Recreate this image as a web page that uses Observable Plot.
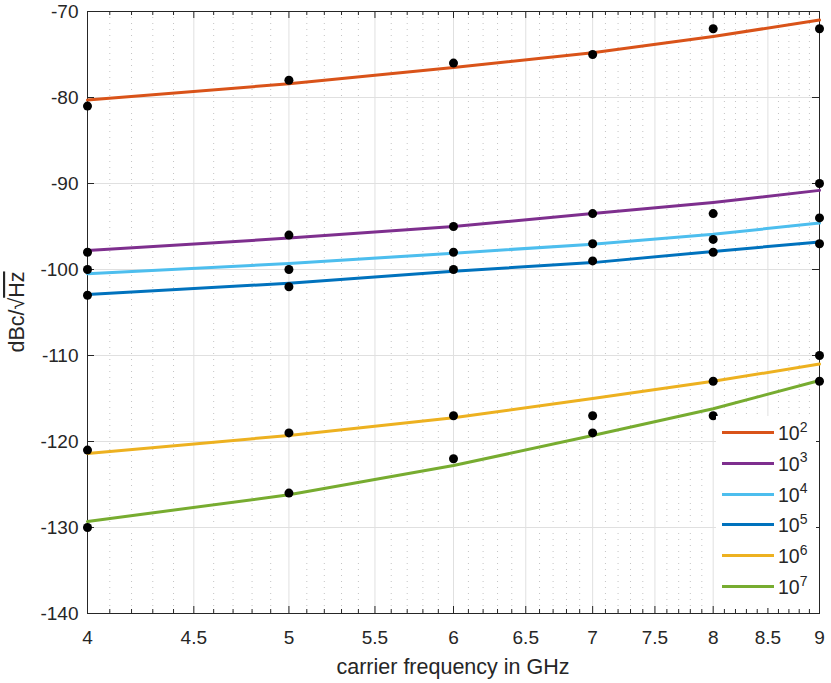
<!DOCTYPE html>
<html>
<head>
<meta charset="utf-8">
<script src="https://cdn.jsdelivr.net/npm/d3@7"></script>
<script src="https://cdn.jsdelivr.net/npm/@observablehq/plot@0.6"></script>
<style>
  html, body { margin: 0; padding: 0; background: #fff; }
  #wrap { position: relative; width: 831px; height: 683px; font-family: "Liberation Sans", Arial, sans-serif; color: #262626; }
  #legend { position: absolute; left: 716px; top: 416px; width: 100px; height: 192px; background: #fff; }
  .entry { position: absolute; left: 0; height: 22px; width: 100px; }
  .entry .sw { position: absolute; left: 6px; top: 9px; width: 52px; height: 3px; }
  .entry .lb { position: absolute; left: 62px; top: 0; font-size: 19.5px; line-height: 22px; white-space: nowrap; }
  .entry .lb sup { font-size: 14px; position: relative; top: -1px; vertical-align: super; line-height: 0; }
</style>
</head>
<body>
<div id="wrap"></div>
<script>
// ---- data ----
const freq = [4, 5, 6, 7, 8, 9];
const seriesNames = ["10^2", "10^3", "10^4", "10^5", "10^6", "10^7"];
const seriesExponents = ["2", "3", "4", "5", "6", "7"];
const seriesColors = ["#D95319", "#7E2F8E", "#4DBEEE", "#0072BD", "#EDB120", "#77AC30"];

// measured points (black dots)
const meas102 = [-81, -78, -76, -75, -72, -72];
const meas103 = [-98, -96, -95, -93.5, -93.5, -90];
const meas104 = [-100, -100, -98, -97, -96.5, -94];
const meas105 = [-103, -102, -100, -99, -98, -97];
const meas106 = [-121, -119, -117, -117, -113, -110];
const meas107 = [-130, -126, -122, -119, -117, -113];

// fitted curves (coloured lines)
const fit102 = [-80.3, -78.4, -76.5, -74.8, -72.9, -71.0];
const fit103 = [-97.8, -96.35, -95.0, -93.5, -92.2, -90.8];
const fit104 = [-100.5, -99.3, -98.1, -97.05, -95.9, -94.6];
const fit105 = [-102.9, -101.6, -100.2, -99.2, -97.9, -96.8];
const fit106 = [-121.4, -119.3, -117.25, -115.0, -113.0, -111.0];
const fit107 = [-129.3, -126.2, -122.8, -119.3, -116.2, -112.9];

// ticks
const xTicks = [4, 4.5, 5, 5.5, 6, 6.5, 7, 7.5, 8, 8.5, 9];
const yTicks = [-140, -130, -120, -110, -100, -90, -80, -70];
const xMinor = d3.range(41, 90).filter(v => v % 5 !== 0).map(v => v / 10);

// ---- build tables ----
const measAll = [meas102, meas103, meas104, meas105, meas106, meas107];
const fitAll = [fit102, fit103, fit104, fit105, fit106, fit107];
const fitRows = [];
const measRows = [];
seriesNames.forEach((s, i) => {
  freq.forEach((f, j) => {
    fitRows.push({series: s, freq: f, value: fitAll[i][j]});
    measRows.push({series: s, freq: f, value: measAll[i][j]});
  });
});

const W = 831, H = 683, mL = 87, mR = 12, mT = 11, mB = 70;
const innerW = W - mL - mR, innerH = H - mT - mB;
const axisColor = "#262626";

const chart = Plot.plot({
  width: W, height: H,
  marginLeft: mL, marginRight: mR, marginTop: mT, marginBottom: mB,
  style: {fontFamily: "'Liberation Sans', Arial, sans-serif", fontSize: "19px", color: axisColor, background: "#fff", overflow: "visible"},
  x: {type: "log", domain: [4, 9], ticks: xTicks, tickFormat: d => String(d), tickSize: 0, tickPadding: 17, label: null},
  y: {domain: [-140, -70], ticks: yTicks, tickFormat: d => String(d), tickSize: 0, tickPadding: 9, label: null},
  color: {domain: seriesNames, range: seriesColors},
  marks: [
    Plot.ruleX(xMinor, {stroke: "#c4c4c4", strokeDasharray: "1,5"}),
    Plot.ruleX(xTicks, {stroke: "#e0e0e0"}),
    Plot.ruleY(yTicks, {stroke: "#e0e0e0"}),
    // inward ticks
    Plot.ruleX(xTicks, {stroke: axisColor, insetTop: innerH - 7}),
    Plot.ruleX(xTicks, {stroke: axisColor, insetBottom: innerH - 7}),
    Plot.ruleX(xMinor, {stroke: axisColor, insetTop: innerH - 4}),
    Plot.ruleX(xMinor, {stroke: axisColor, insetBottom: innerH - 4}),
    Plot.ruleY(yTicks, {stroke: axisColor, insetRight: innerW - 7}),
    Plot.ruleY(yTicks, {stroke: axisColor, insetLeft: innerW - 7}),
    Plot.frame({stroke: axisColor}),
    Plot.line(fitRows, {x: "freq", y: "value", z: "series", stroke: "series", strokeWidth: 3}),
    Plot.dot(measRows, {x: "freq", y: "value", r: 4.5, fill: "#000", stroke: null})
  ]
});

const wrap = document.getElementById("wrap");
wrap.appendChild(chart);

// axis titles
const svg = d3.select(chart);
svg.append("text")
  .attr("x", mL + innerW / 2).attr("y", 674)
  .attr("text-anchor", "middle")
  .attr("fill", axisColor)
  .style("font-size", "21.5px")
  .text("carrier frequency in GHz");

const yl = svg.append("text")
  .attr("transform", `translate(24,${mT + innerH / 2}) rotate(-90)`)
  .attr("text-anchor", "middle")
  .attr("fill", axisColor)
  .style("font-size", "21.5px");
yl.append("tspan").text("dBc/\u221A");
yl.append("tspan").style("text-decoration", "overline").text("Hz");

// legend
const legend = document.createElement("div");
legend.id = "legend";
seriesNames.forEach((s, i) => {
  const e = document.createElement("div");
  e.className = "entry";
  e.style.top = (6 + i * 30.8) + "px";
  e.innerHTML = `<div class="sw" style="background:${seriesColors[i]}"></div><div class="lb">10<sup>${seriesExponents[i]}</sup></div>`;
  legend.appendChild(e);
});
wrap.appendChild(legend);
</script>
</body>
</html>
